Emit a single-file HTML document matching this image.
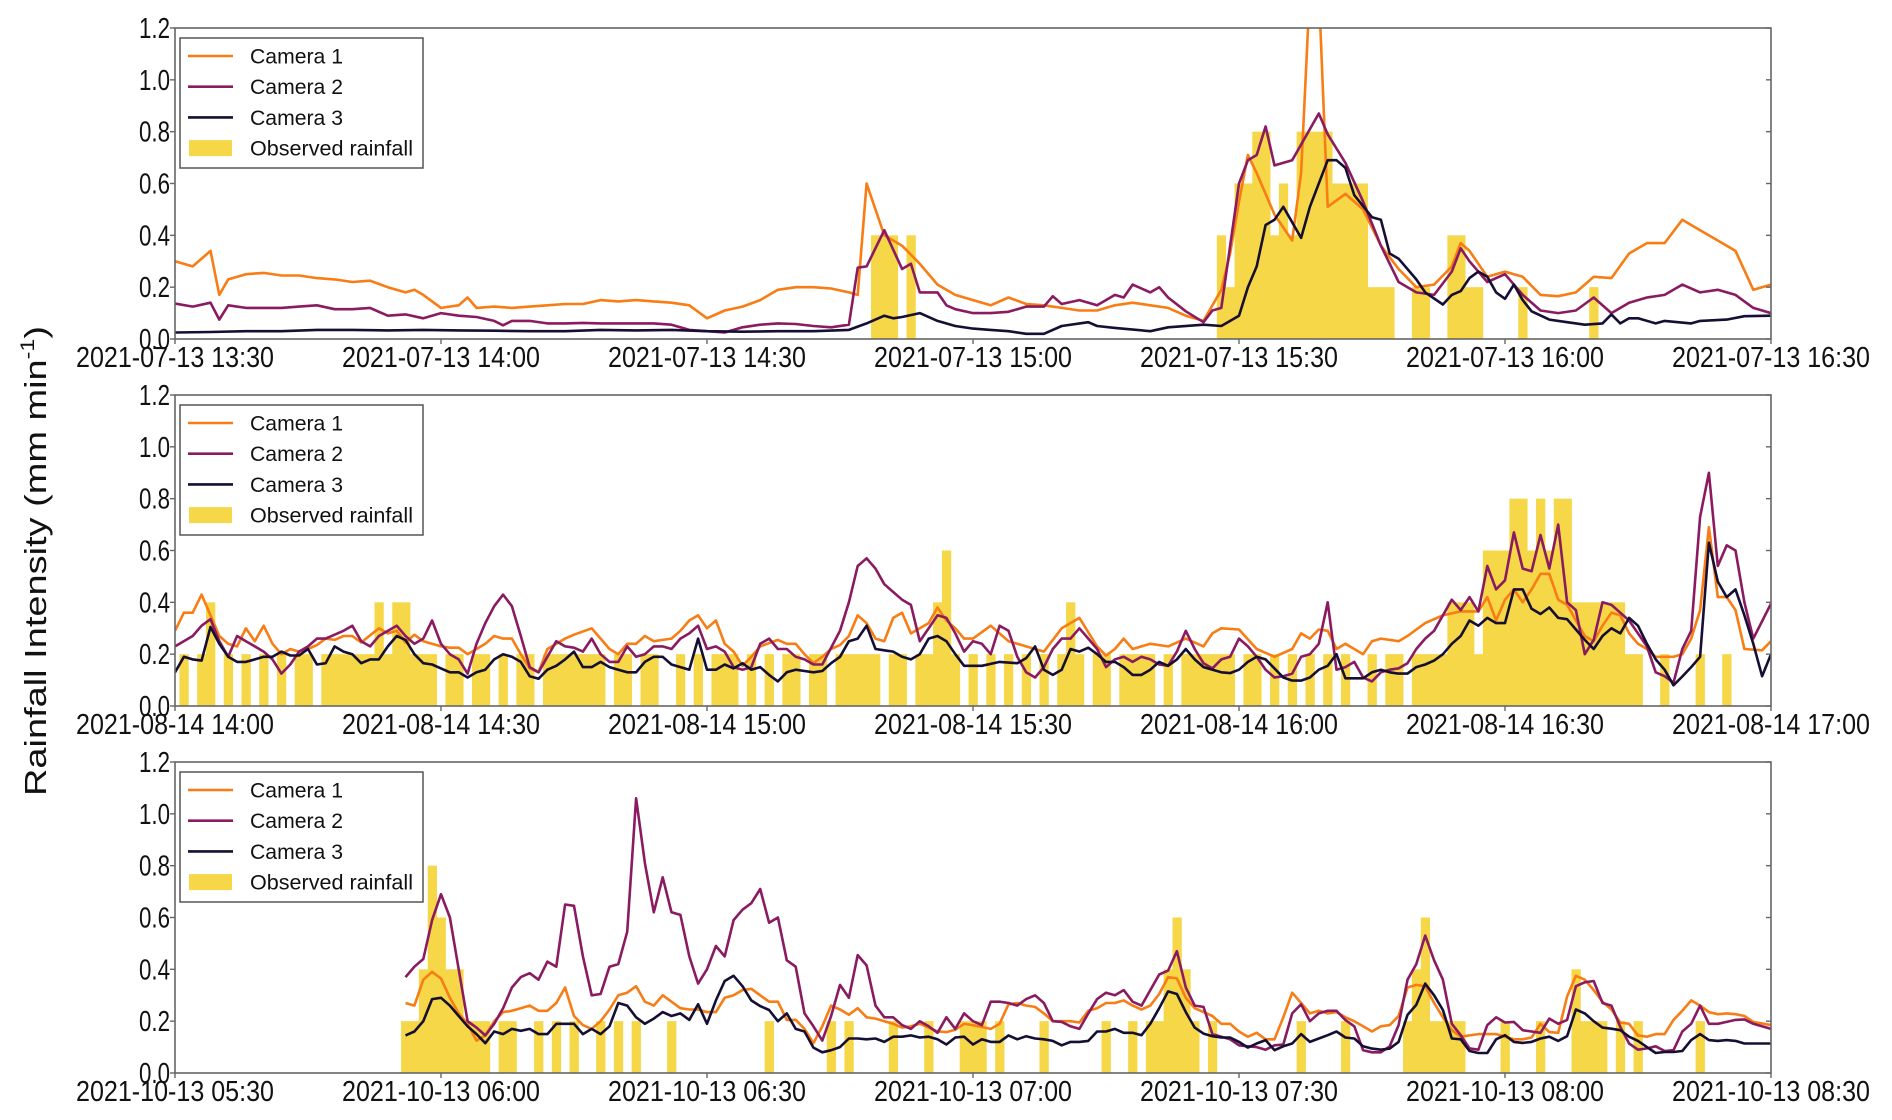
<!DOCTYPE html>
<html><head><meta charset="utf-8"><title>Rainfall intensity</title>
<style>html,body{margin:0;padding:0;background:#fff;}svg{display:block;font-family:"Liberation Sans",Arial,sans-serif;}</style>
</head><body>
<svg id="chart" width="1892" height="1120" viewBox="0 0 1892 1120" xmlns="http://www.w3.org/2000/svg">
<text x="0" y="0" transform="translate(46,561) rotate(-90)" text-anchor="middle" font-size="31" textLength="470" lengthAdjust="spacingAndGlyphs" fill="#111">Rainfall Intensity (mm min<tspan font-size="19" dy="-12">-1</tspan><tspan dy="12">)</tspan></text>
</svg>
<script>
// ---- data ----
const yTicks = [0.0, 0.2, 0.4, 0.6, 0.8, 1.0, 1.2];
const yTickLabels = ["0.0","0.2","0.4","0.6","0.8","1.0","1.2"];
const xTickMinutes = [0, 30, 60, 90, 120, 150, 180];
const xLabels1 = ["2021-07-13 13:30","2021-07-13 14:00","2021-07-13 14:30","2021-07-13 15:00","2021-07-13 15:30","2021-07-13 16:00","2021-07-13 16:30"];
const xLabels2 = ["2021-08-14 14:00","2021-08-14 14:30","2021-08-14 15:00","2021-08-14 15:30","2021-08-14 16:00","2021-08-14 16:30","2021-08-14 17:00"];
const xLabels3 = ["2021-10-13 05:30","2021-10-13 06:00","2021-10-13 06:30","2021-10-13 07:00","2021-10-13 07:30","2021-10-13 08:00","2021-10-13 08:30"];
const legendNames = ["Camera 1","Camera 2","Camera 3","Observed rainfall"];

const p1cam1 = [[0,.30],[2,.28],[4,.34],[5,.17],[6,.23],[8,.25],[10,.255],[12,.245],[14,.245],[16,.235],[18,.23],[20,.22],[22,.225],[24,.20],[26,.18],[27,.19],[28,.17],[30,.12],[32,.13],[33,.16],[34,.12],[36,.125],[38,.12],[40,.125],[42,.13],[44,.135],[46,.135],[48,.15],[50,.145],[52,.15],[54,.145],[56,.14],[58,.13],[60,.08],[62,.11],[64,.125],[66,.15],[68,.19],[70,.20],[72,.20],[74,.195],[76,.18],[77,.17],[78,.60],[80,.40],[82,.36],[84,.29],[86,.21],[88,.17],[90,.15],[92,.13],[94,.16],[96,.135],[98,.13],[100,.12],[102,.11],[104,.11],[106,.13],[108,.14],[110,.13],[112,.12],[114,.09],[116,.07],[118,.19],[119,.33],[120,.53],[121,.71],[122,.64],[124,.48],[126,.38],[127,.64],[128,1.35],[129,1.35],[130,.51],[132,.56],[134,.50],[136,.36],[138,.27],[140,.20],[142,.21],[144,.28],[145,.37],[146,.34],[148,.24],[150,.26],[152,.24],[154,.17],[156,.165],[158,.18],[160,.24],[162,.235],[164,.33],[166,.37],[168,.37],[170,.46],[172,.42],[174,.38],[176,.34],[178,.19],[180,.21]];
const p1cam2 = [[0,.137],[2,.125],[4,.14],[5,.075],[6,.13],[8,.12],[10,.12],[12,.12],[14,.125],[16,.13],[18,.115],[20,.115],[22,.12],[24,.09],[26,.095],[28,.08],[30,.10],[32,.09],[34,.085],[36,.07],[37,.053],[38,.07],[40,.07],[42,.06],[44,.06],[46,.062],[48,.06],[50,.06],[52,.06],[54,.06],[56,.055],[58,.035],[60,.03],[62,.025],[64,.045],[66,.055],[68,.06],[70,.058],[72,.05],[74,.045],[76,.055],[77,.275],[78,.28],[80,.42],[82,.27],[83,.29],[84,.18],[86,.18],[87,.13],[88,.115],[90,.10],[92,.10],[94,.105],[96,.125],[98,.125],[99,.165],[100,.135],[102,.15],[104,.13],[106,.17],[107,.16],[108,.21],[110,.18],[111,.20],[112,.16],[114,.107],[116,.065],[117,.11],[118,.12],[120,.60],[121,.69],[122,.71],[123,.82],[124,.67],[126,.69],[128,.81],[129,.87],[130,.79],[132,.68],[134,.53],[136,.36],[138,.22],[140,.18],[142,.17],[144,.26],[145,.35],[146,.30],[148,.22],[150,.25],[152,.17],[154,.11],[156,.10],[158,.11],[160,.16],[162,.10],[164,.14],[166,.16],[168,.17],[170,.21],[172,.18],[174,.19],[176,.17],[178,.12],[180,.10]];
const p1cam3 = [[0,.025],[4,.027],[8,.03],[12,.03],[16,.035],[20,.035],[24,.033],[28,.035],[32,.033],[36,.032],[40,.03],[44,.03],[48,.035],[52,.033],[56,.035],[60,.03],[64,.028],[68,.03],[72,.03],[76,.035],[78,.06],[80,.09],[81,.08],[82,.085],[84,.10],[86,.07],[88,.05],[90,.04],[92,.035],[94,.03],[96,.02],[98,.02],[100,.05],[103,.065],[104,.05],[106,.043],[110,.03],[112,.045],[116,.055],[118,.05],[120,.09],[121,.2],[122,.28],[123,.44],[124,.46],[125,.51],[127,.39],[128,.51],[130,.69],[131,.69],[132,.66],[133,.555],[135,.47],[136,.46],[137,.33],[138,.31],[140,.23],[141,.18],[143,.133],[144,.17],[145,.185],[146,.235],[147,.26],[148,.24],[149,.18],[150,.155],[151,.21],[152,.15],[153,.107],[155,.075],[157,.065],[159,.055],[161,.06],[162,.095],[163,.06],[164,.08],[165,.08],[167,.06],[168,.07],[171,.06],[172,.07],[175,.075],[177,.088],[180,.09]];
const p1rain = [[79,.4],[80,.4],[81,.4],[83,.4],[118,.4],[119,.2],[120,.6],[121,.6],[122,.8],[123,.8],[124,.4],[125,.6],[126,.4],[127,.8],[128,.8],[129,.8],[130,.8],[131,.6],[132,.6],[133,.6],[134,.6],[135,.2],[136,.2],[137,.2],[140,.2],[141,.2],[144,.4],[145,.4],[146,.2],[147,.2],[152,.2],[160,.2]];

const p2cam1 = [[0,.29],[1,.36],[2,.36],[3,.43],[4,.35],[5,.27],[6,.24],[7,.23],[8,.30],[9,.25],[10,.31],[11,.24],[12,.20],[13,.22],[14,.21],[15,.22],[16,.235],[17,.26],[18,.255],[19,.27],[20,.27],[21,.245],[23,.30],[24,.28],[25,.29],[26,.245],[27,.275],[28,.25],[30,.23],[31,.225],[32,.225],[33,.20],[34,.22],[35,.24],[36,.27],[37,.26],[38,.26],[39,.20],[40,.145],[41,.13],[42,.22],[43,.24],[44,.26],[45,.275],[47,.30],[48,.26],[49,.22],[50,.20],[51,.24],[52,.24],[53,.27],[54,.25],[55,.255],[56,.26],[57,.29],[58,.33],[59,.35],[60,.30],[61,.33],[62,.24],[63,.21],[64,.155],[65,.19],[66,.23],[68,.255],[69,.24],[70,.24],[71,.20],[72,.165],[73,.19],[74,.22],[75,.235],[76,.27],[77,.35],[78,.32],[79,.26],[80,.25],[81,.34],[82,.36],[83,.28],[84,.30],[85,.32],[86,.38],[87,.33],[88,.30],[89,.26],[90,.26],[92,.31],[94,.25],[96,.23],[98,.21],[100,.30],[102,.34],[104,.23],[105,.195],[106,.22],[107,.26],[108,.22],[110,.24],[112,.23],[114,.26],[116,.23],[117,.28],[118,.30],[120,.295],[122,.22],[124,.19],[126,.22],[127,.28],[128,.26],[129,.295],[130,.29],[131,.22],[132,.24],[134,.20],[135,.25],[136,.26],[138,.25],[139,.27],[141,.32],[143,.35],[145,.365],[147,.365],[148,.42],[149,.33],[150,.41],[151,.45],[152,.40],[153,.45],[154,.51],[155,.51],[156,.41],[157,.39],[159,.27],[160,.25],[161,.31],[162,.36],[163,.35],[164,.28],[165,.24],[166,.22],[167,.19],[169,.19],[170,.20],[171,.26],[172,.37],[173,.69],[174,.42],[175,.42],[176,.37],[177,.22],[179,.215],[180,.25]];
const p2cam2 = [[0,.23],[2,.27],[3,.31],[4,.335],[5,.25],[6,.19],[7,.27],[8,.25],[10,.21],[11,.18],[12,.125],[13,.16],[14,.21],[15,.23],[16,.26],[17,.26],[19,.29],[20,.31],[21,.25],[22,.23],[23,.27],[25,.31],[26,.27],[27,.24],[28,.26],[29,.33],[30,.24],[31,.2],[32,.18],[33,.125],[34,.24],[35,.32],[36,.385],[37,.43],[38,.385],[39,.27],[40,.15],[41,.13],[42,.19],[43,.25],[44,.23],[45,.225],[46,.21],[47,.26],[48,.2],[49,.17],[50,.17],[51,.23],[52,.19],[53,.2],[54,.23],[55,.23],[56,.22],[57,.26],[58,.28],[59,.31],[60,.22],[61,.23],[62,.21],[63,.15],[64,.14],[65,.15],[66,.24],[67,.26],[68,.22],[69,.22],[70,.19],[71,.18],[72,.16],[73,.16],[75,.29],[76,.40],[77,.54],[78,.57],[79,.53],[80,.47],[81,.44],[82,.41],[83,.39],[84,.25],[85,.30],[86,.35],[87,.34],[88,.28],[89,.21],[90,.25],[91,.24],[92,.20],[93,.31],[94,.29],[95,.19],[96,.13],[97,.11],[98,.15],[99,.22],[100,.26],[101,.26],[102,.30],[103,.26],[104,.22],[105,.15],[106,.18],[107,.19],[108,.17],[109,.19],[110,.18],[111,.16],[112,.155],[113,.21],[114,.29],[115,.22],[116,.165],[117,.145],[118,.18],[119,.19],[120,.26],[121,.23],[122,.19],[123,.14],[124,.11],[125,.115],[126,.125],[127,.19],[128,.20],[129,.24],[130,.40],[131,.14],[132,.15],[133,.17],[134,.11],[135,.095],[136,.13],[137,.14],[138,.145],[139,.165],[140,.22],[141,.26],[142,.29],[144,.41],[145,.37],[146,.42],[147,.365],[148,.54],[149,.45],[150,.485],[151,.67],[152,.53],[153,.52],[154,.66],[155,.53],[156,.70],[157,.40],[158,.37],[159,.20],[160,.255],[161,.40],[162,.39],[163,.36],[164,.33],[166,.23],[167,.13],[168,.115],[169,.09],[170,.22],[171,.29],[172,.73],[173,.90],[174,.54],[175,.62],[176,.60],[177,.40],[178,.26],[180,.395]];
const p2cam3 = [[0,.13],[1,.19],[2,.18],[3,.175],[4,.305],[5,.24],[6,.19],[7,.17],[8,.17],[9,.18],[10,.19],[11,.19],[12,.21],[13,.195],[14,.195],[15,.22],[16,.16],[17,.165],[18,.23],[19,.21],[20,.20],[21,.165],[22,.18],[23,.18],[24,.23],[25,.27],[26,.255],[27,.20],[28,.165],[29,.16],[30,.145],[31,.13],[32,.13],[33,.11],[34,.13],[35,.14],[36,.18],[37,.20],[38,.19],[39,.17],[40,.115],[41,.105],[42,.14],[43,.155],[44,.18],[45,.21],[46,.15],[47,.15],[48,.17],[49,.15],[50,.14],[51,.13],[52,.13],[53,.17],[54,.19],[55,.19],[56,.16],[57,.15],[58,.14],[59,.26],[60,.14],[61,.14],[62,.16],[63,.145],[64,.165],[65,.14],[66,.15],[67,.12],[68,.095],[69,.13],[70,.14],[71,.135],[72,.13],[73,.135],[74,.165],[75,.19],[76,.25],[77,.26],[78,.31],[79,.22],[80,.215],[81,.21],[82,.19],[83,.18],[84,.20],[85,.26],[86,.27],[87,.25],[88,.20],[89,.155],[90,.155],[91,.155],[93,.17],[95,.165],[96,.185],[97,.23],[98,.14],[99,.12],[100,.14],[101,.22],[102,.21],[103,.225],[104,.20],[105,.17],[106,.17],[107,.15],[108,.12],[109,.12],[110,.14],[111,.17],[112,.155],[113,.18],[114,.22],[115,.18],[116,.15],[118,.13],[119,.127],[120,.14],[121,.17],[122,.19],[123,.18],[124,.145],[125,.11],[126,.098],[127,.098],[128,.11],[129,.14],[130,.155],[131,.20],[132,.107],[133,.107],[134,.107],[135,.13],[136,.14],[137,.13],[138,.125],[139,.125],[140,.15],[141,.16],[142,.175],[143,.20],[144,.24],[145,.27],[146,.33],[147,.31],[148,.34],[149,.32],[150,.32],[151,.45],[152,.45],[153,.375],[154,.355],[155,.38],[156,.34],[157,.335],[158,.295],[159,.255],[160,.22],[161,.27],[162,.30],[163,.28],[164,.34],[165,.31],[166,.24],[167,.18],[168,.14],[169,.08],[170,.114],[171,.15],[172,.19],[173,.63],[174,.48],[175,.42],[176,.45],[177,.35],[178,.24],[179,.115],[180,.20]];
const p2rain = [[1,.2],[3,.2],[4,.4],[6,.2],[8,.2],[10,.2],[12,.2],[14,.2],[15,.2],[17,.2],[18,.2],[19,.2],[20,.2],[21,.2],[22,.2],[23,.4],[24,.2],[25,.4],[26,.4],[27,.2],[28,.2],[29,.2],[31,.2],[32,.2],[34,.2],[35,.2],[37,.2],[39,.2],[40,.2],[42,.2],[43,.2],[44,.2],[45,.2],[46,.2],[47,.2],[48,.2],[50,.2],[51,.2],[53,.2],[54,.2],[57,.2],[59,.2],[61,.2],[62,.2],[63,.2],[65,.2],[67,.2],[69,.2],[70,.2],[72,.2],[73,.2],[75,.2],[76,.2],[77,.2],[78,.2],[79,.2],[81,.2],[82,.2],[84,.2],[85,.2],[86,.4],[87,.6],[88,.2],[90,.2],[92,.2],[94,.2],[96,.2],[98,.2],[100,.2],[101,.4],[102,.2],[104,.2],[105,.2],[107,.2],[108,.2],[109,.2],[110,.2],[112,.2],[114,.2],[115,.2],[116,.2],[117,.2],[118,.2],[119,.2],[121,.2],[122,.2],[124,.2],[126,.2],[128,.2],[130,.2],[132,.2],[135,.2],[137,.2],[138,.2],[140,.2],[141,.2],[142,.2],[143,.2],[144,.4],[145,.4],[146,.4],[147,.2],[148,.6],[149,.6],[150,.6],[151,.8],[152,.8],[153,.6],[154,.8],[155,.6],[156,.8],[157,.8],[158,.4],[159,.4],[160,.4],[161,.4],[162,.4],[163,.4],[164,.2],[165,.2],[168,.2],[172,.2],[175,.2]];

const p3cam1 = [[26,.27],[27,.26],[28,.36],[29,.39],[30,.365],[31,.29],[32,.23],[33,.19],[34,.125],[35,.145],[36,.20],[37,.235],[38,.24],[39,.25],[40,.26],[41,.24],[42,.24],[43,.27],[44,.33],[45,.22],[46,.185],[47,.17],[48,.20],[49,.245],[50,.30],[51,.31],[52,.335],[53,.275],[54,.26],[55,.30],[56,.275],[57,.25],[58,.245],[59,.245],[60,.235],[61,.235],[62,.29],[63,.30],[64,.32],[65,.325],[66,.30],[67,.275],[68,.275],[69,.205],[70,.205],[71,.17],[72,.115],[73,.18],[74,.26],[75,.245],[76,.225],[77,.25],[78,.215],[79,.21],[80,.20],[81,.19],[82,.175],[83,.18],[84,.19],[85,.175],[86,.16],[87,.158],[88,.167],[89,.19],[90,.185],[92,.17],[93,.19],[94,.265],[95,.27],[96,.26],[97,.255],[98,.23],[99,.20],[100,.20],[101,.20],[102,.195],[103,.24],[104,.25],[105,.27],[106,.27],[107,.28],[108,.26],[109,.245],[110,.26],[111,.305],[112,.37],[113,.365],[114,.29],[115,.25],[116,.235],[117,.22],[118,.19],[119,.19],[120,.16],[121,.14],[122,.155],[123,.13],[124,.13],[125,.215],[126,.31],[127,.27],[128,.23],[129,.24],[130,.23],[131,.235],[132,.215],[133,.20],[134,.18],[135,.16],[136,.18],[137,.185],[138,.22],[139,.33],[140,.34],[141,.335],[142,.27],[143,.215],[144,.165],[145,.14],[146,.145],[147,.15],[149,.15],[150,.14],[151,.13],[152,.13],[153,.137],[154,.19],[155,.158],[156,.155],[157,.295],[158,.375],[159,.36],[160,.32],[161,.275],[162,.245],[163,.195],[164,.19],[165,.145],[166,.14],[167,.15],[168,.15],[169,.205],[170,.24],[171,.28],[172,.26],[173,.235],[174,.227],[175,.23],[176,.227],[177,.22],[178,.197],[180,.185]];
const p3cam2 = [[26,.37],[27,.41],[28,.44],[29,.59],[30,.69],[31,.60],[32,.40],[33,.20],[34,.175],[35,.145],[36,.19],[37,.25],[38,.33],[39,.37],[40,.385],[41,.36],[42,.43],[43,.41],[44,.65],[45,.645],[46,.45],[47,.30],[48,.305],[49,.41],[50,.42],[51,.545],[52,1.06],[53,.81],[54,.62],[55,.755],[56,.62],[57,.61],[58,.45],[59,.345],[60,.40],[61,.49],[62,.45],[63,.59],[64,.63],[65,.655],[66,.71],[67,.58],[68,.60],[69,.435],[70,.41],[71,.23],[72,.18],[73,.125],[74,.22],[75,.34],[76,.29],[77,.455],[78,.415],[79,.26],[80,.215],[81,.215],[82,.185],[83,.17],[84,.20],[85,.18],[86,.155],[87,.215],[88,.17],[89,.23],[90,.20],[91,.185],[92,.275],[93,.275],[94,.27],[95,.26],[96,.285],[97,.30],[98,.27],[99,.20],[100,.197],[101,.18],[102,.17],[103,.23],[104,.285],[105,.31],[106,.30],[107,.32],[108,.275],[109,.26],[110,.32],[111,.38],[112,.395],[113,.47],[114,.33],[115,.26],[116,.255],[117,.15],[118,.14],[119,.13],[120,.107],[121,.103],[122,.10],[123,.09],[124,.107],[125,.11],[126,.23],[127,.265],[128,.20],[129,.23],[130,.24],[131,.24],[132,.204],[133,.18],[134,.088],[135,.08],[136,.08],[137,.103],[138,.185],[139,.36],[140,.42],[141,.53],[142,.435],[143,.36],[144,.19],[145,.146],[146,.095],[147,.09],[148,.185],[149,.215],[150,.195],[151,.197],[152,.165],[153,.16],[154,.155],[155,.21],[156,.19],[157,.205],[158,.335],[159,.35],[160,.355],[161,.27],[162,.26],[163,.178],[164,.114],[165,.09],[166,.095],[167,.103],[168,.085],[169,.088],[170,.16],[171,.19],[172,.26],[173,.19],[174,.19],[175,.197],[176,.205],[177,.207],[178,.19],[180,.17]];
const p3cam3 = [[26,.145],[27,.16],[28,.20],[29,.285],[30,.29],[31,.26],[32,.22],[33,.18],[34,.15],[35,.115],[36,.16],[37,.15],[38,.17],[39,.163],[40,.17],[41,.15],[42,.15],[43,.19],[44,.19],[45,.19],[46,.15],[47,.17],[48,.15],[49,.18],[50,.27],[51,.26],[52,.215],[53,.19],[54,.21],[55,.235],[56,.22],[57,.23],[58,.205],[59,.265],[60,.19],[61,.28],[62,.355],[63,.375],[64,.335],[65,.28],[66,.258],[67,.243],[68,.20],[69,.23],[70,.17],[71,.16],[72,.098],[73,.08],[74,.088],[75,.10],[76,.133],[77,.133],[78,.13],[79,.133],[80,.12],[81,.14],[82,.14],[83,.145],[84,.137],[85,.14],[86,.13],[87,.11],[88,.137],[89,.14],[90,.11],[91,.13],[92,.12],[93,.12],[94,.145],[95,.13],[96,.142],[97,.133],[98,.13],[99,.124],[100,.107],[101,.12],[102,.12],[103,.124],[104,.16],[105,.16],[106,.17],[107,.155],[108,.155],[109,.146],[110,.19],[111,.25],[112,.315],[113,.305],[114,.235],[115,.175],[116,.152],[117,.142],[118,.137],[119,.137],[120,.12],[121,.098],[122,.114],[123,.127],[124,.088],[125,.103],[126,.114],[127,.15],[128,.12],[129,.133],[130,.146],[131,.16],[132,.137],[133,.133],[134,.103],[135,.094],[136,.09],[137,.094],[138,.12],[139,.224],[140,.263],[141,.345],[142,.30],[143,.243],[144,.133],[145,.13],[146,.085],[147,.077],[148,.077],[149,.13],[150,.146],[151,.12],[152,.116],[153,.12],[154,.133],[155,.14],[156,.124],[157,.142],[158,.245],[159,.23],[160,.20],[161,.175],[162,.171],[163,.165],[164,.14],[165,.124],[166,.10],[167,.077],[168,.081],[169,.081],[170,.085],[171,.127],[172,.15],[173,.127],[174,.124],[175,.127],[176,.124],[177,.114],[178,.114],[180,.114]];
const p3rain = [[26,.2],[27,.2],[28,.4],[29,.8],[30,.6],[31,.4],[32,.4],[33,.2],[34,.2],[35,.2],[37,.2],[38,.2],[41,.2],[43,.2],[45,.2],[48,.2],[50,.2],[52,.2],[56,.2],[67,.2],[74,.2],[76,.2],[81,.2],[85,.2],[89,.2],[90,.2],[91,.2],[93,.2],[98,.2],[105,.2],[108,.2],[110,.2],[111,.2],[112,.4],[113,.6],[114,.4],[115,.2],[117,.2],[127,.2],[132,.2],[139,.2],[140,.4],[141,.6],[142,.2],[143,.2],[144,.2],[145,.2],[150,.2],[154,.2],[158,.4],[159,.2],[160,.2],[161,.2],[163,.2],[165,.2],[172,.2]];

// ---- drawing ----
const NS = "http://www.w3.org/2000/svg";
const svg = document.getElementById("chart");
const L = 175, R = 1771, H = 311, YMAX = 1.2, TMAX = 180;
const colors = ["#f77d14", "#8a1b60", "#160f33"];
const rainColor = "#f5d748";
function mk(tag, attrs, parent){ const e = document.createElementNS(NS, tag); for (const k in attrs) e.setAttribute(k, attrs[k]); (parent||svg).appendChild(e); return e; }

function drawPanel(idx, top, cams, rain, labels){
  const xs = t => L + (t / TMAX) * (R - L);
  const ys = v => top + H - (v / YMAX) * H;
  const g = mk("g", {});
  
  
  const cid = "clip" + idx;
  const cp = mk("clipPath", {id: cid}, g);
  mk("rect", {x: L, y: top, width: R - L, height: H}, cp);
  const bars = mk("g", {"clip-path": "url(#" + cid + ")"}, g);
  
  
  rain.forEach(d => {
    const x0 = xs(d[0] - 0.5), x1 = xs(d[0] + 0.5);
    const r = mk("rect", {x: x0, y: ys(d[1]), width: x1 - x0 + 0.4, height: ys(0) - ys(d[1]), fill: rainColor}, bars);
    
    
  });
  cams.forEach((s, i) => {
    const p = mk("polyline", {points: s.map(d => xs(d[0]).toFixed(1) + "," + ys(d[1]).toFixed(1)).join(" "), fill: "none", stroke: colors[i], "stroke-width": 2.6, "stroke-linejoin": "round", "clip-path": "url(#" + cid + ")"}, g);
    
    
  });
  const frame = mk("rect", {x: L, y: top, width: R - L, height: H, fill: "none", stroke: "#666", "stroke-width": 1.6}, g);
  
  
  yTicks.forEach((v, i) => {
    mk("line", {x1: L - 5, x2: L, y1: ys(v), y2: ys(v), stroke: "#666", "stroke-width": 1.4}, g);
    mk("line", {x1: R - 5, x2: R, y1: ys(v), y2: ys(v), stroke: "#666", "stroke-width": 1.4}, g);
    const t = mk("text", {x: 170, y: ys(v) + 10, "text-anchor": "end", "font-size": 29, textLength: 31, lengthAdjust: "spacingAndGlyphs", fill: "#111"}, g);
    t.textContent = yTickLabels[i];
    
    
  });
  xTickMinutes.forEach((m, i) => {
    mk("line", {x1: xs(m), x2: xs(m), y1: top + H, y2: top + H + 5, stroke: "#666", "stroke-width": 1.4}, g);
    const t = mk("text", {x: xs(m), y: top + H + 28, "text-anchor": "middle", "font-size": 29, textLength: 198, lengthAdjust: "spacingAndGlyphs", fill: "#111"}, g);
    t.textContent = labels[i];
    
    
  });
  // legend
  const lg = mk("g", {}, g);
  
  
  const lt = top + 10;
  mk("rect", {x: 180, y: lt, width: 243, height: 130, fill: "#fff", stroke: "#555", "stroke-width": 1.5}, lg);
  legendNames.forEach((n, i) => {
    const cy = lt + 18 + i * 30.7;
    if (i < 3) mk("line", {x1: 188, x2: 233, y1: cy, y2: cy, stroke: colors[i], "stroke-width": 2.6}, lg);
    else mk("rect", {x: 189, y: cy - 8, width: 43, height: 16, fill: rainColor}, lg);
    const t = mk("text", {x: 250, y: cy + 7.5, "font-size": 21, textLength: (i < 3 ? 93 : 163), lengthAdjust: "spacingAndGlyphs", fill: "#111"}, lg);
    t.textContent = n;
    
    
  });
}
drawPanel(1, 28, [p1cam1, p1cam2, p1cam3], p1rain, xLabels1);
drawPanel(2, 395, [p2cam1, p2cam2, p2cam3], p2rain, xLabels2);
drawPanel(3, 762, [p3cam1, p3cam2, p3cam3], p3rain, xLabels3);
</script>
</body></html>
